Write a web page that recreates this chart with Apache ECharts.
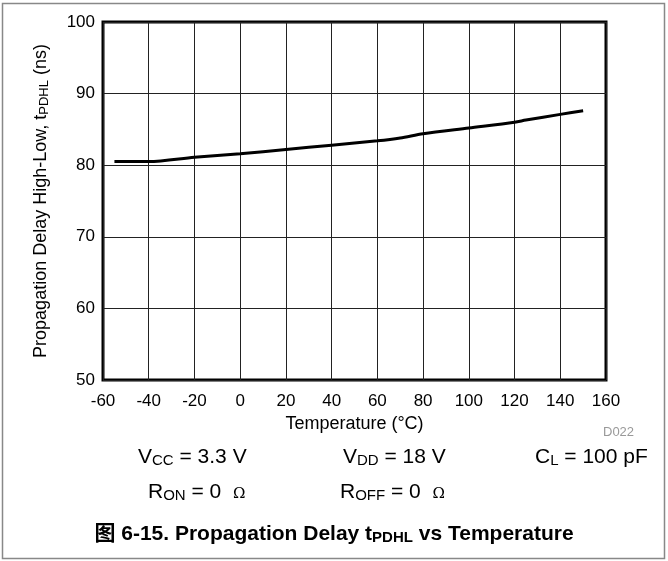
<!DOCTYPE html>
<html>
<head>
<meta charset="utf-8">
<script src="https://cdn.jsdelivr.net/npm/echarts@6/dist/echarts.min.js"></script>
<style>html,body{margin:0;padding:0;background:#fff;}#c{width:668px;height:561px;}</style>
</head>
<body>
<div id="c"></div>
<script>
const temps = [-55, -40, -20, 0, 20, 40, 60, 70, 80, 100, 120, 125, 140, 150];
const delays = [80.5, 80.5, 81.1, 81.6, 82.2, 82.8, 83.4, 83.8, 84.4, 85.2, 86.0, 86.3, 87.1, 87.6];
const xTicks = { min: -60, max: 160, interval: 20 };
const yTicks = { min: 50, max: 100, interval: 10 };

const FONT = '"Liberation Sans", Arial, sans-serif';
const chart = echarts.init(document.getElementById('c'), null, { renderer: 'canvas' });
const subStyle = { fontSize: 15, fontFamily: FONT, color: '#000', padding: [7, 0, 0, 0] };
const mainStyle = { fontSize: 21, fontFamily: FONT, color: '#000' };
const omegaStyle = { fontSize: 15, fontFamily: '"DejaVu Serif", serif', color: '#000', padding: [4, 0, 0, 0] };
function condText(x, y, text) {
  return {
    type: 'text', left: x, top: y,
    style: { text: text, rich: { m: mainStyle, s: subStyle, o: omegaStyle }, fill: '#000' }
  };
}
chart.setOption({
  animation: false,
  backgroundColor: '#fff',
  grid: { left: 103, right: 62, top: 22, bottom: 181, show: true, borderColor: '#000', borderWidth: 3, containLabel: false },
  xAxis: {
    type: 'value', min: xTicks.min, max: xTicks.max, interval: xTicks.interval,
    name: 'Temperature (°C)', nameLocation: 'middle', nameGap: 32,
    nameTextStyle: { fontSize: 18, fontFamily: FONT, color: '#000' },
    axisLine: { show: false }, axisTick: { show: false },
    axisLabel: { fontSize: 17, fontFamily: FONT, color: '#000', margin: 13 },
    splitLine: { show: true, lineStyle: { color: '#222', width: 1 } }
  },
  yAxis: {
    type: 'value', min: yTicks.min, max: yTicks.max, interval: yTicks.interval,
    name: '{m|Propagation Delay High-Low, t}{s|PDHL}{m| (ns)}', nameLocation: 'middle', nameGap: 52,
    nameTextStyle: { rich: { m: { fontSize: 18, fontFamily: FONT, color: '#000' }, s: { fontSize: 13, fontFamily: FONT, color: '#000', padding: [6, 0, 0, 0] } } },
    axisLine: { show: false }, axisTick: { show: false },
    axisLabel: { fontSize: 17, fontFamily: FONT, color: '#000', margin: 8 },
    splitLine: { show: true, lineStyle: { color: '#222', width: 1 } }
  },
  series: [{
    type: 'line', data: temps.map((t, i) => [t, delays[i]]),
    showSymbol: false, smooth: 0.3,
    lineStyle: { color: '#000', width: 3 }
  }],
  graphic: [
    { type: 'rect', shape: { x: 2.5, y: 3.5, width: 662, height: 555 }, style: { fill: null, stroke: '#888', lineWidth: 1.5 }, z: -1 },
    { type: 'text', left: 603, top: 426, style: { text: 'D022', fontSize: 13, fontFamily: FONT, fill: '#999' } },
    condText(138, 447, '{m|V}{s|CC}{m| = 3.3 V}'),
    condText(343, 447, '{m|V}{s|DD}{m| = 18 V}'),
    condText(535, 447, '{m|C}{s|L}{m| = 100 pF}'),
    condText(148, 482, '{m|R}{s|ON}{m| = 0  }{o|Ω}'),
    condText(340, 482, '{m|R}{s|OFF}{m| = 0  }{o|Ω}'),
    {
      type: 'text', left: 'center', top: 524,
      style: {
        text: '{m|图 6-15. Propagation Delay t}{s|PDHL}{m| vs Temperature}',
        rich: {
          m: { fontSize: 21, fontWeight: 'bold', fontFamily: '"Liberation Sans", "Noto Sans CJK SC", Arial, sans-serif', color: '#000' },
          s: { fontSize: 15, fontWeight: 'bold', fontFamily: FONT, color: '#000', padding: [7, 0, 0, 0] }
        }
      }
    }
  ]
});
</script>
</body>
</html>
